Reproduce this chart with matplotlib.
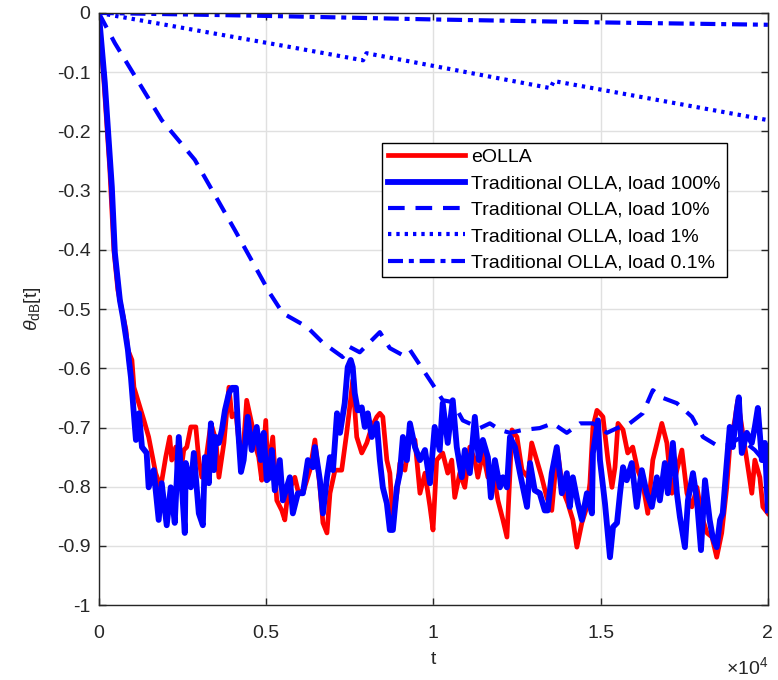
import numpy as np
import matplotlib
matplotlib.use('Agg')
import matplotlib.pyplot as plt
from matplotlib.ticker import FixedLocator, FuncFormatter

plt.rcParams['font.family'] = ['Liberation Sans', 'DejaVu Sans']
plt.rcParams['axes.unicode_minus'] = False
plt.rcParams['mathtext.fontset'] = 'custom'
plt.rcParams['mathtext.it'] = 'Liberation Sans:italic'
plt.rcParams['mathtext.rm'] = 'Liberation Sans'

# time values are in units of 1e4
t_eolla = [0, 0.015, 0.033, 0.045, 0.057, 0.069, 0.081, 0.087, 0.099, 0.105, 0.135, 0.149, 0.170, 0.185,
           0.200, 0.212, 0.218, 0.230, 0.239, 0.254, 0.263, 0.275, 0.290, 0.299, 0.308, 0.320, 0.335, 0.350,
           0.359, 0.374, 0.389, 0.398, 0.410, 0.419, 0.433, 0.442, 0.457, 0.469, 0.478, 0.487, 0.499, 0.505,
           0.520, 0.532, 0.547, 0.556, 0.565, 0.586, 0.595, 0.610, 0.631, 0.646, 0.661, 0.670, 0.682, 0.691,
           0.706, 0.726, 0.741, 0.750, 0.759, 0.771, 0.786, 0.801, 0.816, 0.831, 0.840, 0.849, 0.861, 0.870,
           0.879, 0.891, 0.900, 0.915, 0.930, 0.945, 0.960, 0.975, 0.990, 0.999, 1.010, 1.028, 1.043, 1.055,
           1.064, 1.079, 1.094, 1.109, 1.124, 1.133, 1.148, 1.163, 1.178, 1.193, 1.208, 1.220, 1.235, 1.250,
           1.265, 1.283, 1.294, 1.309, 1.324, 1.339, 1.354, 1.363, 1.372, 1.387, 1.402, 1.417, 1.429, 1.444,
           1.459, 1.468, 1.477, 1.489, 1.498, 1.507, 1.522, 1.534, 1.543, 1.552, 1.567, 1.581, 1.596, 1.611,
           1.626, 1.641, 1.656, 1.671, 1.683, 1.698, 1.713, 1.728, 1.743, 1.758, 1.773, 1.788, 1.803, 1.818,
           1.833, 1.847, 1.862, 1.877, 1.886, 1.901, 1.910, 1.922, 1.937, 1.952, 1.961, 1.976, 1.985, 2.000]
theta_eolla = [0, -0.113, -0.265, -0.400, -0.468, -0.502, -0.535, -0.569, -0.586, -0.632, -0.688, -0.716,
               -0.777, -0.801, -0.750, -0.716, -0.755, -0.733, -0.801, -0.738, -0.733, -0.699, -0.699, -0.755,
               -0.784, -0.755, -0.693, -0.721, -0.784, -0.726, -0.632, -0.682, -0.676, -0.726, -0.726, -0.654,
               -0.693, -0.733, -0.750, -0.789, -0.688, -0.772, -0.716, -0.823, -0.840, -0.856, -0.811, -0.784,
               -0.806, -0.811, -0.772, -0.721, -0.801, -0.861, -0.878, -0.811, -0.772, -0.772, -0.709, -0.666,
               -0.620, -0.716, -0.743, -0.726, -0.699, -0.682, -0.676, -0.682, -0.755, -0.777, -0.856, -0.811,
               -0.760, -0.772, -0.716, -0.721, -0.811, -0.777, -0.834, -0.873, -0.755, -0.743, -0.777, -0.755,
               -0.818, -0.777, -0.801, -0.733, -0.755, -0.784, -0.743, -0.784, -0.772, -0.823, -0.856, -0.885,
               -0.704, -0.716, -0.772, -0.784, -0.726, -0.755, -0.784, -0.818, -0.840, -0.784, -0.743, -0.806,
               -0.828, -0.856, -0.902, -0.861, -0.834, -0.794, -0.699, -0.671, -0.676, -0.682, -0.755, -0.801,
               -0.767, -0.693, -0.704, -0.743, -0.733, -0.772, -0.794, -0.845, -0.755, -0.721, -0.693, -0.726,
               -0.811, -0.772, -0.738, -0.811, -0.834, -0.801, -0.851, -0.878, -0.885, -0.919, -0.878, -0.801,
               -0.733, -0.688, -0.654, -0.699, -0.755, -0.811, -0.755, -0.784, -0.834, -0.845]

t_load100 = [0, 0.018, 0.039, 0.048, 0.063, 0.072, 0.087, 0.090, 0.096, 0.111, 0.120, 0.129, 0.143, 0.149,
             0.164, 0.179, 0.188, 0.203, 0.215, 0.227, 0.239, 0.257, 0.260, 0.275, 0.284, 0.299, 0.311, 0.317,
             0.329, 0.335, 0.344, 0.350, 0.359, 0.368, 0.377, 0.389, 0.398, 0.410, 0.416, 0.425, 0.433, 0.445,
             0.457, 0.472, 0.484, 0.493, 0.502, 0.511, 0.517, 0.526, 0.541, 0.550, 0.571, 0.580, 0.595, 0.610,
             0.625, 0.640, 0.646, 0.661, 0.670, 0.682, 0.691, 0.700, 0.712, 0.721, 0.735, 0.744, 0.753, 0.759,
             0.765, 0.774, 0.786, 0.795, 0.804, 0.816, 0.831, 0.840, 0.849, 0.861, 0.870, 0.879, 0.891, 0.900,
             0.909, 0.921, 0.930, 0.945, 0.960, 0.975, 0.990, 1.004, 1.019, 1.028, 1.043, 1.058, 1.070, 1.085,
             1.094, 1.109, 1.124, 1.136, 1.148, 1.163, 1.172, 1.184, 1.199, 1.208, 1.220, 1.229, 1.244, 1.259,
             1.280, 1.289, 1.303, 1.318, 1.333, 1.342, 1.354, 1.369, 1.384, 1.399, 1.408, 1.417, 1.432, 1.444,
             1.459, 1.474, 1.477, 1.483, 1.492, 1.498, 1.513, 1.528, 1.537, 1.549, 1.558, 1.567, 1.578, 1.593,
             1.608, 1.623, 1.638, 1.653, 1.668, 1.677, 1.692, 1.701, 1.716, 1.728, 1.737, 1.752, 1.761, 1.776,
             1.788, 1.800, 1.812, 1.826, 1.835, 1.847, 1.857, 1.865, 1.877, 1.886, 1.895, 1.907, 1.913, 1.922,
             1.937, 1.952, 1.961, 1.970, 1.982, 1.991, 2.000]
theta_load100 = [0, -0.118, -0.294, -0.405, -0.485, -0.513, -0.569, -0.586, -0.615, -0.721, -0.676, -0.733,
                 -0.743, -0.801, -0.772, -0.856, -0.794, -0.865, -0.801, -0.861, -0.716, -0.878, -0.760, -0.801,
                 -0.743, -0.845, -0.865, -0.750, -0.794, -0.693, -0.772, -0.716, -0.726, -0.704, -0.671, -0.642,
                 -0.633, -0.633, -0.699, -0.775, -0.755, -0.682, -0.738, -0.699, -0.755, -0.709, -0.789, -0.784,
                 -0.738, -0.806, -0.755, -0.823, -0.784, -0.845, -0.811, -0.811, -0.755, -0.767, -0.733, -0.789,
                 -0.845, -0.784, -0.750, -0.772, -0.676, -0.709, -0.659, -0.598, -0.586, -0.598, -0.642, -0.671,
                 -0.666, -0.699, -0.676, -0.716, -0.693, -0.755, -0.801, -0.828, -0.873, -0.873, -0.801, -0.777,
                 -0.716, -0.755, -0.693, -0.733, -0.755, -0.738, -0.794, -0.699, -0.738, -0.659, -0.726, -0.654,
                 -0.733, -0.784, -0.738, -0.777, -0.682, -0.755, -0.721, -0.750, -0.818, -0.755, -0.801, -0.784,
                 -0.801, -0.716, -0.733, -0.777, -0.834, -0.760, -0.806, -0.811, -0.840, -0.840, -0.777, -0.733,
                 -0.811, -0.777, -0.834, -0.784, -0.828, -0.856, -0.811, -0.845, -0.743, -0.721, -0.688, -0.755,
                 -0.828, -0.919, -0.868, -0.861, -0.811, -0.767, -0.789, -0.760, -0.834, -0.772, -0.811, -0.834,
                 -0.784, -0.823, -0.760, -0.811, -0.726, -0.811, -0.851, -0.902, -0.823, -0.777, -0.823, -0.907,
                 -0.789, -0.856, -0.885, -0.902, -0.856, -0.845, -0.760, -0.699, -0.733, -0.671, -0.649, -0.743,
                 -0.709, -0.726, -0.699, -0.667, -0.755, -0.726, -0.840]

t_load10 = [0, 0.048, 0.188, 0.287, 0.407, 0.511, 0.550, 0.622, 0.670, 0.729, 0.750, 0.780, 0.840, 0.870,
            0.909, 0.930, 0.999, 1.028, 1.058, 1.088, 1.139, 1.169, 1.199, 1.229, 1.268, 1.318, 1.357, 1.399,
            1.438, 1.477, 1.519, 1.549, 1.587, 1.626, 1.656, 1.686, 1.728, 1.773, 1.806, 1.847, 1.877, 1.916,
            1.961, 2.000]
theta_load10 = [0, -0.051, -0.181, -0.248, -0.367, -0.473, -0.507, -0.530, -0.557, -0.581, -0.564, -0.573,
                -0.539, -0.566, -0.578, -0.569, -0.628, -0.654, -0.657, -0.688, -0.701, -0.693, -0.704, -0.709,
                -0.704, -0.701, -0.693, -0.709, -0.693, -0.693, -0.709, -0.701, -0.693, -0.676, -0.637, -0.650,
                -0.659, -0.682, -0.716, -0.730, -0.730, -0.718, -0.738, -0.764]

t_load1 = [0, 0.586, 0.790, 0.800, 1.350, 1.360, 2.000]
theta_load1 = [0, -0.059, -0.080, -0.068, -0.127, -0.115, -0.181]

t_load01 = [0, 0.5, 1.0, 1.5, 2.0]
theta_load01 = [0, -0.005, -0.011, -0.016, -0.020]

y_ticks = [-1, -0.9, -0.8, -0.7, -0.6, -0.5, -0.4, -0.3, -0.2, -0.1, 0]
x_ticks = [0, 0.5, 1, 1.5, 2]

fig = plt.figure(figsize=(7.78, 6.8), dpi=100)
ax = fig.add_axes([0.127, 0.110, 0.860, 0.871])

blue = (0, 0, 1)
ax.plot(np.array(t_eolla) * 1e4, theta_eolla, color=(1, 0, 0), lw=3.4, label='eOLLA')
ax.plot(np.array(t_load100) * 1e4, theta_load100, color=blue, lw=4.2, label='Traditional OLLA, load 100%')
ax.plot(np.array(t_load10) * 1e4, theta_load10, color=blue, lw=3, dashes=(4, 2.6),
        label='Traditional OLLA, load 10%')
ax.plot(np.array(t_load1) * 1e4, theta_load1, color=blue, lw=3, dashes=(0.8, 1.2),
        label='Traditional OLLA, load 1%')
ax.plot(np.array(t_load01) * 1e4, theta_load01, color=blue, lw=3, dashes=(3.6, 1.4, 1.2, 1.4),
        label='Traditional OLLA, load 0.1%')

ax.set_xlim(0, 2e4)
ax.set_ylim(-1, 0)
ax.xaxis.set_major_locator(FixedLocator([x * 1e4 for x in x_ticks]))
ax.xaxis.set_major_formatter(FuncFormatter(lambda v, p: '%g' % (v / 1e4)))
ax.yaxis.set_major_locator(FixedLocator(y_ticks))
ax.yaxis.set_major_formatter(FuncFormatter(lambda v, p: '%g' % v))

ax.grid(True, color='#e0e0e0', lw=1)
ax.set_axisbelow(True)
for s in ax.spines.values():
    s.set_color('#262626')
    s.set_linewidth(1)
ax.tick_params(direction='in', top=True, right=True, length=5, width=1, colors='#262626',
               labelsize=14, labelcolor='#262626')
ax.tick_params(axis='x', pad=14)
ax.tick_params(axis='y', pad=6)

ax.set_xlabel('t', fontsize=14, color='#262626', labelpad=7)
ax.set_ylabel(r'$\theta_{\rm dB}$[t]', fontsize=14, color='#262626', labelpad=10)
ax.text(1.0, -0.105, r'$\times\mathregular{10^4}$', transform=ax.transAxes, ha='right', va='center',
        fontsize=14, color='#262626')

leg = ax.legend(loc='upper left', bbox_to_anchor=(0.423, 0.781), fontsize=14, handlelength=4.0,
                handletextpad=0.3, labelspacing=0.45, borderpad=0.3, borderaxespad=0, fancybox=False,
                edgecolor='black', framealpha=1)
leg.get_frame().set_linewidth(1)

fig.savefig('out.png', dpi=100)
